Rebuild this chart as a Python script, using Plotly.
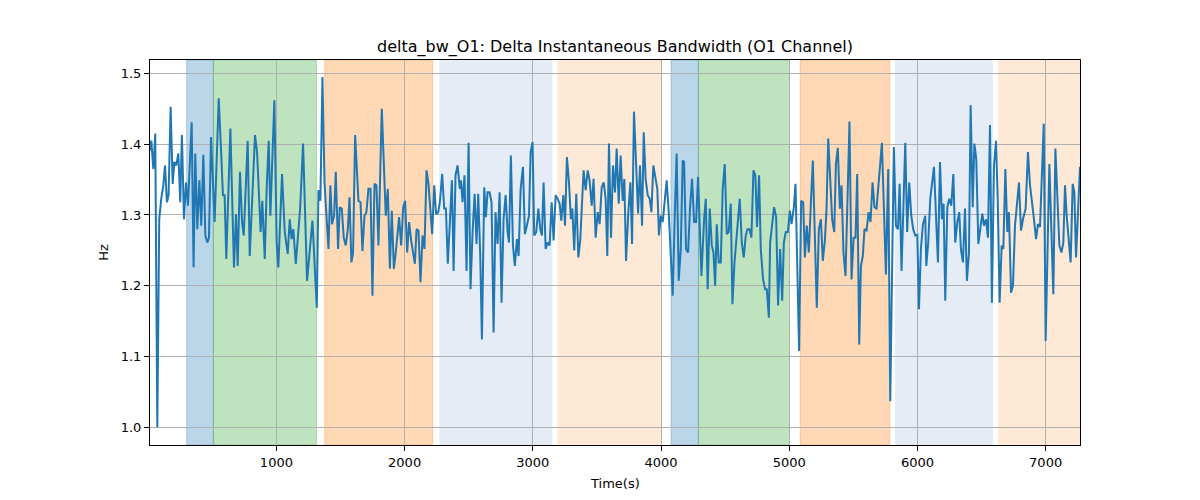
import plotly.graph_objects as go

time_s = [14, 24, 40, 55, 71, 86, 102, 118, 131, 146, 159, 175, 191, 204, 219, 235, 250, 263, 279, 295, 310, 339, 354, 367, 383, 399, 414, 430, 446, 461, 474, 490, 518, 550, 570, 583, 596, 609, 641, 654, 669, 685, 698, 716, 732, 745, 776, 792, 810, 833, 849, 877, 890, 909, 924, 940, 953, 984, 1002, 1015, 1044, 1065, 1088, 1104, 1119, 1132, 1151, 1185, 1208,
          1239, 1281, 1315, 1328, 1343, 1359, 1375, 1406, 1421, 1434, 1450, 1463, 1481, 1494, 1510, 1525, 1541, 1557, 1570, 1585, 1598, 1614, 1640, 1656, 1671, 1687, 1702, 1718, 1734, 1749, 1765, 1780, 1796, 1822, 1853, 1869, 1885, 1900, 1916, 1931, 1957, 1973, 1989, 2004, 2020, 2035, 2051, 2080, 2093, 2108, 2124, 2140, 2155, 2171, 2186, 2215, 2231, 2246, 2262, 2275, 2293, 2309, 2322, 2337, 2369, 2382, 2397, 2413, 2431,
          2439, 2452, 2467, 2483, 2499, 2514, 2530, 2546, 2561, 2574, 2590, 2603, 2621, 2634, 2647, 2663, 2678, 2694, 2709, 2725, 2741, 2756, 2772, 2788, 2803, 2814, 2829, 2845, 2860, 2876, 2889, 2905, 2923, 2938, 2954, 2970, 2983, 2998, 3011, 3027, 3043, 3058, 3071, 3084, 3100, 3115, 3131, 3147, 3162, 3178, 3193, 3209, 3222, 3238, 3251, 3266, 3282, 3297, 3308, 3323, 3339, 3355, 3370, 3396, 3412, 3428, 3443, 3459, 3474, 3490, 3506, 3521, 3537, 3553, 3568, 3581, 3594, 3610, 3625, 3641,
          3654, 3670, 3685, 3701, 3714, 3727, 3745, 3761, 3774, 3789, 3821, 3836, 3852, 3865, 3880, 3896, 3912, 3925, 3940, 3956, 3971, 3984, 3998, 4013, 4029, 4044, 4060, 4076, 4091, 4107, 4122, 4138, 4154, 4169, 4180, 4195, 4211, 4226, 4242, 4258, 4273, 4289, 4299, 4315, 4336, 4349, 4364, 4380, 4396, 4409, 4422, 4435, 4450, 4466, 4481, 4497, 4513, 4528, 4544, 4557, 4573, 4591, 4614, 4630, 4645, 4661, 4674, 4690, 4705, 4721, 4736, 4749, 4765, 4778, 4796, 4812, 4825, 4841, 4851,
          4882, 4898, 4913, 4929, 4945, 4958, 4973, 4989, 5005, 5018, 5036, 5049, 5077, 5093, 5109, 5122, 5137, 5153, 5168, 5184, 5215, 5231, 5247, 5262, 5278, 5291, 5304, 5335, 5351, 5364, 5379, 5395, 5408, 5423, 5439, 5470, 5486, 5502, 5517, 5530, 5546, 5559, 5574, 5587, 5603, 5619, 5634, 5650, 5665, 5681, 5723, 5754, 5772, 5788, 5816, 5832, 5848, 5861, 5876, 5905, 5920, 5936, 5952, 5967, 5983, 5999, 6012, 6027, 6043, 6061,
          6069, 6084, 6100, 6129, 6160, 6176, 6191, 6204, 6217, 6233, 6248, 6264, 6280, 6295, 6311, 6326, 6339, 6355, 6371, 6386, 6402, 6415, 6431, 6444, 6459, 6475, 6490, 6506, 6519, 6535, 6550, 6566, 6581, 6597, 6613, 6626, 6641, 6657, 6670, 6686, 6701, 6714, 6730, 6745, 6761, 6777, 6792, 6808, 6823, 6844, 6862, 6878, 6896, 6909, 6925, 6940, 6956, 6985, 7000, 7029, 7060, 7076, 7107, 7123, 7138, 7151, 7164, 7195, 7211, 7224, 7237, 7268]

delta_bw = [1.391, 1.405, 1.365, 1.415, 1.000, 1.294, 1.323, 1.342, 1.370, 1.318, 1.328, 1.453, 1.344, 1.375, 1.370, 1.387, 1.318, 1.413, 1.294, 1.346, 1.313, 1.431, 1.226, 1.387, 1.280, 1.349, 1.285, 1.385, 1.271, 1.261, 1.268, 1.410, 1.290, 1.465, 1.384, 1.328, 1.328, 1.238, 1.422, 1.337, 1.226, 1.301, 1.228, 1.361, 1.290, 1.271, 1.405, 1.242, 1.318, 1.413, 1.389, 1.276, 1.320, 1.238, 1.337, 1.405, 1.299, 1.462, 1.261, 1.226, 1.358, 1.276, 1.245, 1.294, 1.266, 1.280, 1.231, 1.309, 1.401,
            1.207, 1.292, 1.169, 1.335, 1.320, 1.495, 1.346, 1.252, 1.342, 1.287, 1.299, 1.361, 1.252, 1.311, 1.309, 1.268, 1.257, 1.280, 1.325, 1.233, 1.247, 1.413, 1.320, 1.318, 1.249, 1.299, 1.304, 1.337, 1.337, 1.186, 1.344, 1.342, 1.257, 1.450, 1.299, 1.337, 1.224, 1.306, 1.224, 1.247, 1.297, 1.257, 1.311, 1.320, 1.247, 1.290, 1.264, 1.231, 1.280, 1.278, 1.205, 1.271, 1.252, 1.363, 1.344, 1.273, 1.342, 1.301, 1.304, 1.318, 1.358, 1.309, 1.309, 1.231, 1.349, 1.221, 1.356, 1.370, 1.337,
            1.349, 1.318, 1.356, 1.221, 1.402, 1.195, 1.276, 1.330, 1.259, 1.330, 1.242, 1.124, 1.339, 1.297, 1.332, 1.332, 1.318, 1.134, 1.304, 1.259, 1.332, 1.176, 1.294, 1.328, 1.276, 1.261, 1.384, 1.257, 1.228, 1.266, 1.242, 1.337, 1.368, 1.273, 1.285, 1.299, 1.389, 1.403, 1.271, 1.276, 1.309, 1.280, 1.271, 1.346, 1.252, 1.261, 1.257, 1.318, 1.264, 1.328, 1.323, 1.316, 1.292, 1.328, 1.285, 1.382, 1.346, 1.294, 1.309, 1.250, 1.330, 1.240, 1.264, 1.363, 1.335, 1.363, 1.349, 1.313, 1.351, 1.268, 1.304, 1.287, 1.339, 1.346, 1.323, 1.242, 1.401, 1.268, 1.370, 1.332,
            1.394, 1.316, 1.384, 1.320, 1.351, 1.235, 1.304, 1.346, 1.259, 1.446, 1.302, 1.370, 1.285, 1.417, 1.351, 1.328, 1.323, 1.304, 1.370, 1.351, 1.337, 1.271, 1.299, 1.290, 1.323, 1.349, 1.304, 1.252, 1.186, 1.299, 1.387, 1.207, 1.252, 1.377, 1.375, 1.252, 1.247, 1.309, 1.351, 1.290, 1.290, 1.354, 1.304, 1.214, 1.294, 1.323, 1.195, 1.309, 1.257, 1.247, 1.200, 1.287, 1.233, 1.233, 1.337, 1.372, 1.273, 1.276, 1.316, 1.174, 1.233, 1.276, 1.323, 1.261, 1.240, 1.271, 1.280, 1.280, 1.268, 1.363, 1.356, 1.283, 1.356, 1.252, 1.209, 1.195, 1.195, 1.155, 1.261,
            1.311, 1.297, 1.172, 1.252, 1.179, 1.261, 1.276, 1.276, 1.306, 1.287, 1.311, 1.344, 1.108, 1.320, 1.318, 1.240, 1.285, 1.247, 1.313, 1.377, 1.169, 1.280, 1.294, 1.235, 1.264, 1.309, 1.408, 1.294, 1.276, 1.372, 1.395, 1.309, 1.342, 1.247, 1.214, 1.432, 1.209, 1.268, 1.268, 1.358, 1.117, 1.228, 1.242, 1.280, 1.278, 1.304, 1.290, 1.346, 1.311, 1.309, 1.402, 1.216, 1.365, 1.037, 1.396, 1.285, 1.280, 1.344, 1.221, 1.402, 1.276, 1.346, 1.299, 1.280, 1.271, 1.272, 1.167, 1.252, 1.287, 1.299,
            1.228, 1.261, 1.323, 1.368, 1.233, 1.375, 1.294, 1.316, 1.179, 1.311, 1.323, 1.313, 1.358, 1.261, 1.290, 1.304, 1.252, 1.233, 1.309, 1.207, 1.247, 1.455, 1.311, 1.401, 1.379, 1.259, 1.280, 1.302, 1.285, 1.294, 1.268, 1.427, 1.176, 1.370, 1.405, 1.323, 1.176, 1.257, 1.252, 1.365, 1.276, 1.304, 1.190, 1.200, 1.285, 1.323, 1.346, 1.278, 1.294, 1.309, 1.389, 1.342, 1.318, 1.294, 1.266, 1.287, 1.283, 1.429, 1.122, 1.372, 1.188, 1.394, 1.257, 1.247, 1.261, 1.342, 1.299, 1.233, 1.344, 1.332, 1.240, 1.368]

span_start = [300, 508, 1377, 2275, 3196, 4078, 4292, 5085, 5827, 6631]
span_end = [508, 1312, 2218, 3149, 3995, 4292, 5002, 5785, 6584, 7268]
span_fill = ["rgba(31,119,180,0.3)", "rgba(44,160,44,0.3)", "rgba(255,127,14,0.3)",
             "rgba(229,236,246,1)", "rgba(254,232,214,1)",
             "rgba(31,119,180,0.3)", "rgba(44,160,44,0.3)", "rgba(255,127,14,0.3)",
             "rgba(229,236,246,1)", "rgba(254,232,214,1)"]

x_ticks = [1000, 2000, 3000, 4000, 5000, 6000, 7000]
y_ticks = [1.0, 1.1, 1.2, 1.3, 1.4, 1.5]
y_tick_text = ["1.0", "1.1", "1.2", "1.3", "1.4", "1.5"]

fig = go.Figure()
fig.add_trace(go.Scatter(x=time_s, y=delta_bw, mode="lines",
                         line=dict(color="#1f77b4", width=2), showlegend=False))

for s, e, c in zip(span_start, span_end, span_fill):
    fig.add_shape(type="rect", xref="x", yref="paper", x0=s, x1=e, y0=0, y1=1,
                  fillcolor=c, line=dict(color=c, width=1), layer="below")

font = "DejaVu Sans, Arial, sans-serif"
# page body has an 8px default margin, so the figure is sized/offset to compensate
W, H = 1184, 484
fig.update_layout(
    width=W, height=H,
    margin=dict(l=142, r=112, t=52, b=47),
    paper_bgcolor="white", plot_bgcolor="white",
    font=dict(family=font, size=13, color="black"),
    title=dict(text="delta_bw_O1: Delta Instantaneous Bandwidth (O1 Channel)",
               x=607 / W, xanchor="center", xref="container",
               y=1 - 38 / H, yanchor="middle", yref="container",
               font=dict(family=font, size=16, color="black")),
    showlegend=False,
)
fig.update_xaxes(range=[14, 7268], tickvals=x_ticks, showgrid=True, gridcolor="#b0b0b0",
                 gridwidth=1, showline=True, linecolor="black", linewidth=1, mirror=True,
                 ticks="outside", ticklen=5, tickcolor="black", zeroline=False,
                 tickfont=dict(size=13, family=font))
fig.update_yaxes(range=[0.975, 1.519], tickvals=y_ticks, ticktext=y_tick_text, showgrid=True,
                 gridcolor="#b0b0b0", gridwidth=1, showline=True, linecolor="black", linewidth=1,
                 mirror=True, ticks="outside", ticklen=5, tickcolor="black", zeroline=False,
                 tickfont=dict(size=13, family=font))
fig.add_annotation(text="Time(s)", xref="paper", yref="paper", x=0.5, y=-0.075,
                   yanchor="top", showarrow=False, font=dict(size=13, family=font))
fig.add_annotation(text="Hz", xref="paper", yref="paper", x=-0.040, y=0.5, textangle=-90,
                   xanchor="right", showarrow=False, font=dict(size=13, family=font))

fig.write_html("out.html")
